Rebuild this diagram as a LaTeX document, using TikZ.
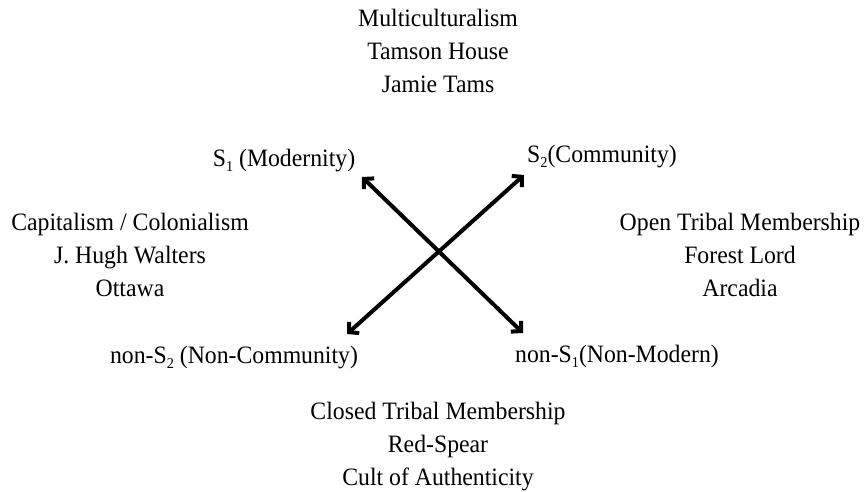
\documentclass[tikz,border=0pt]{standalone}
\usepackage{fontspec}
\setmainfont{Liberation Serif}[FakeStretch=0.95]
\usetikzlibrary{arrows.meta}
\newcommand{\sbs}[1]{\raisebox{-0.45ex}{\fontsize{15}{15}\selectfont #1}}
\begin{document}
\begin{tikzpicture}[x=1pt,y=-1pt,
  lbl/.style={inner sep=0pt, anchor=base, align=center, font=\fontsize{25}{33}\selectfont},
  arr/.style={line width=4pt, {Straight Barb[length=7pt,width=15pt,line width=4pt]}-{Straight Barb[length=7pt,width=15pt,line width=4pt]}}
]
\useasboundingbox (0,0) rectangle (866,491);
\node[lbl] (top) at (438,92) {Multiculturalism\\Tamson House\\Jamie Tams};
\node[lbl] (left) at (130,296) {Capitalism / Colonialism\\J. Hugh Walters\\Ottawa};
\node[lbl] (right) at (740,296) {Open Tribal Membership\\Forest Lord\\Arcadia};
\node[lbl] (bottom) at (438,485) {Closed Tribal Membership\\Red-Spear\\Cult of Authenticity};
\node[lbl] (s1) at (284,166) {S\sbs{1} (Modernity)};
\node[lbl] (s2) at (602,162) {S\sbs{2}(Community)};
\node[lbl] (ns2) at (234,363) {non-S\sbs{2} (Non-Community)};
\node[lbl] (ns1) at (617,362) {non-S\sbs{1}(Non-Modern)};
\coordinate (tl) at (362,177);
\coordinate (tr) at (524,175);
\coordinate (bl) at (347,334);
\coordinate (br) at (523,333);
\draw[arr] (tl) -- (br);
\draw[arr] (bl) -- (tr);
\end{tikzpicture}
\end{document}
